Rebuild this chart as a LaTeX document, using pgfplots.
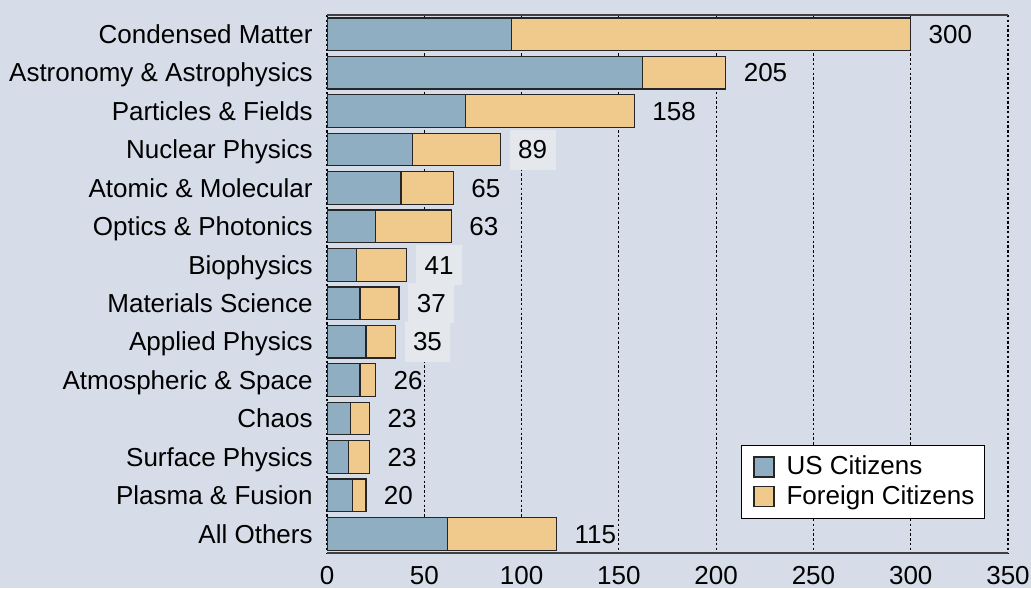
\documentclass[border=0pt]{standalone}
\usepackage{pgfplots}
\pgfplotsset{compat=1.18}
\usepackage{pgfplotstable}
\usepackage{fontspec}
\setmainfont{Liberation Sans}
\definecolor{bg}{HTML}{D6DDE9}
\definecolor{usc}{HTML}{8FAEC1}
\definecolor{fgc}{HTML}{F0CA8D}
\definecolor{lbox}{HTML}{E4E8EC}
\pgfplotstableread{
idx us foreign label box
0  95  205 300 0
1  162 43  205 0
2  71  87  158 0
3  44  45  89  1
4  38  27  65  0
5  25  39  63  0
6  15  26  41  1
7  17  20  37  1
8  20  15  35  1
9  17  8   26  0
10 12  10  23  0
11 11  11  23  0
12 13  7   20  0
13 62  56  115 0
}\data
\newcommand{\lfont}{\fontsize{13bp}{15bp}\selectfont}
\pgfplotsset{
  common/.style={
    at={(163.5bp,-276.5bp)}, anchor=south west,
    scale only axis, width=340.5bp, height=269bp,
    xmin=0, xmax=350, ymin=-0.5, ymax=13.5, y dir=reverse,
    enlargelimits=false,
  }
}
\begin{document}
\begin{tikzpicture}[x=1bp,y=1bp]
\fill[bg] (0,0) rectangle (515.5,-294);
\path[use as bounding box] (0,0) rectangle (515.5,-294);
\begin{axis}[
  common,
  xbar stacked, bar width=16.3bp,
  xtick={0,50,...,350}, ytick={0,...,13},
  yticklabels={Condensed Matter, Astronomy \& Astrophysics, Particles \& Fields, Nuclear Physics, Atomic \& Molecular, Optics \& Photonics, Biophysics, Materials Science, Applied Physics, Atmospheric \& Space, Chaos, Surface Physics, Plasma \& Fusion, All Others},
  xmajorgrids,
  grid style={black, line width=0.6bp, dash pattern=on 1.2bp off 1.2bp},
  major tick length=0pt,
  separate axis lines,
  x axis line style={black!75, line width=0.7bp},
  y axis line style={draw=none},
  axis background/.style={fill=bg},
  tick label style={font=\lfont, black},
  /pgf/number format/assume math mode=true,
  xticklabel style={inner sep=0pt, anchor=north, yshift=-6.3bp, text height=9.3bp, text depth=0pt},
  yticklabel style={inner sep=0pt, anchor=east, xshift=-7bp, text height=9.3bp, text depth=0pt},
  legend style={at={(0.9662,0.0626)}, anchor=south east, draw=black, line width=0.6bp, fill=white, font=\lfont, inner xsep=3bp, inner ysep=3.5bp, row sep=0pt},
  legend cell align=left,
  legend image code/.code={\path (0bp,0bp); \draw[#1, line width=0.6bp] (3bp,-5bp) rectangle (13bp,5bp); \path (17bp,0bp);},
]
\addplot[fill=usc, draw=black!85, line width=0.6bp] table[x=us, y=idx] {\data};
\addlegendentry{US Citizens}
\addplot[fill=fgc, draw=black!85, line width=0.6bp] table[x=foreign, y=idx] {\data};
\addlegendentry{Foreign Citizens}
\end{axis}
\begin{axis}[common, hide axis, clip=false]
\addplot[only marks, mark=none,
  point meta=explicit symbolic,
  visualization depends on={\thisrow{box} \as \isboxed},
  nodes near coords,
  nodes near coords style={anchor=west, xshift=4.5bp, font=\lfont, black, inner xsep=4.25bp, inner ysep=0pt, text height=9.3bp, text depth=0pt, minimum height=20bp, fill=lbox, fill opacity=\isboxed, text opacity=1, draw=none},
] table[x expr=\thisrow{us}+\thisrow{foreign}, y=idx, meta=label] {\data};
\end{axis}
\end{tikzpicture}
\end{document}
